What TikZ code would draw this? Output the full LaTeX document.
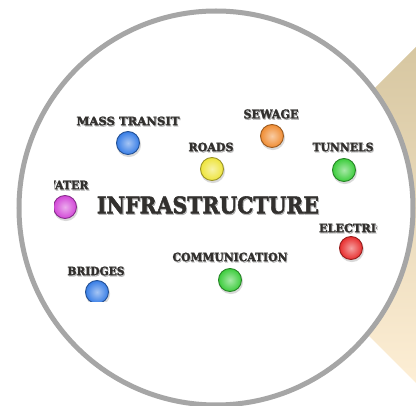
\documentclass[tikz,border=0pt]{standalone}
\usepackage{fontspec}
\setmainfont{DejaVu Serif}
\newfontfamily\heavy{DejaVu Serif}[FakeBold=2.2]
\usepackage{graphicx}
\definecolor{ringgray}{RGB}{166,166,166}
\definecolor{labelgray}{RGB}{50,48,46}
\definecolor{tanTop}{RGB}{214,198,160}
\definecolor{tanBot}{RGB}{254,239,214}
\definecolor{bBlue}{RGB}{55,125,230}
\definecolor{bOrange}{RGB}{240,140,50}
\definecolor{bYellow}{RGB}{238,228,60}
\definecolor{bGreen}{RGB}{60,205,60}
\definecolor{bMagenta}{RGB}{210,70,215}
\definecolor{bRed}{RGB}{232,45,45}
\newcommand{\mylab}[5]{%
  \node[lbl, text=black, opacity=0.22] (#1s) at ([shift={(0.9,1.3)}]#2) {\resizebox{#3pt}{#4pt}{\heavy\bfseries #5}};
  \node[lbl] (#1) at (#2) {\resizebox{#3pt}{#4pt}{\heavy\bfseries #5}};}
\newcommand{\myball}[3]{%
  \fill[black, opacity=0.15] ([shift={(0.8,1.8)}]#2) circle (12.3);
  \node[ball=#3] (#1) at (#2) {};}
\begin{document}
\begin{tikzpicture}[x=1pt,y=-1pt,
  lbl/.style={inner sep=0pt, text=labelgray},
  ball/.style={circle, minimum size=23pt, inner sep=0pt, draw=#1!65!black, line width=0.9pt, inner color=#1!45!white, outer color=#1}]
\useasboundingbox (0,0) rectangle (416,406);
% beige diamond behind
\shade[top color=tanTop, bottom color=tanBot] (248,215) -- (422,41) -- (422,389) -- cycle;
% ring
\filldraw[fill=white, draw=ringgray, line width=5pt] (216,208) circle (197);
% clipped picture
\begin{scope}
\clip (54,92) rectangle (377,302);
\mylab{mt}{128,121}{103}{8.5}{MASS TRANSIT}
\myball{bmt}{128,143}{bBlue}
\mylab{sw}{271,114}{55}{9}{SEWAGE}
\myball{bsw}{272,136}{bOrange}
\mylab{rd}{211,147}{45}{8.5}{ROADS}
\myball{brd}{212,169}{bYellow}
\mylab{tn}{343,147}{61}{8.5}{TUNNELS}
\myball{btn}{344,170}{bGreen}
\mylab{wt}{66,185}{45}{8.5}{WATER}
\myball{bwt}{65,207}{bMagenta}
\mylab{inf}{208,205}{222}{17}{INFRASTRUCTURE}
\mylab{el}{352,228}{66}{8.5}{ELECTRIC}
\myball{bel}{351,248}{bRed}
\mylab{cm}{230,257}{115}{8.5}{COMMUNICATION}
\myball{bcm}{230,280}{bGreen}
\mylab{br}{96,271}{57}{8.5}{BRIDGES}
\myball{bbr}{97,292}{bBlue}
\end{scope}
\end{tikzpicture}
\end{document}
